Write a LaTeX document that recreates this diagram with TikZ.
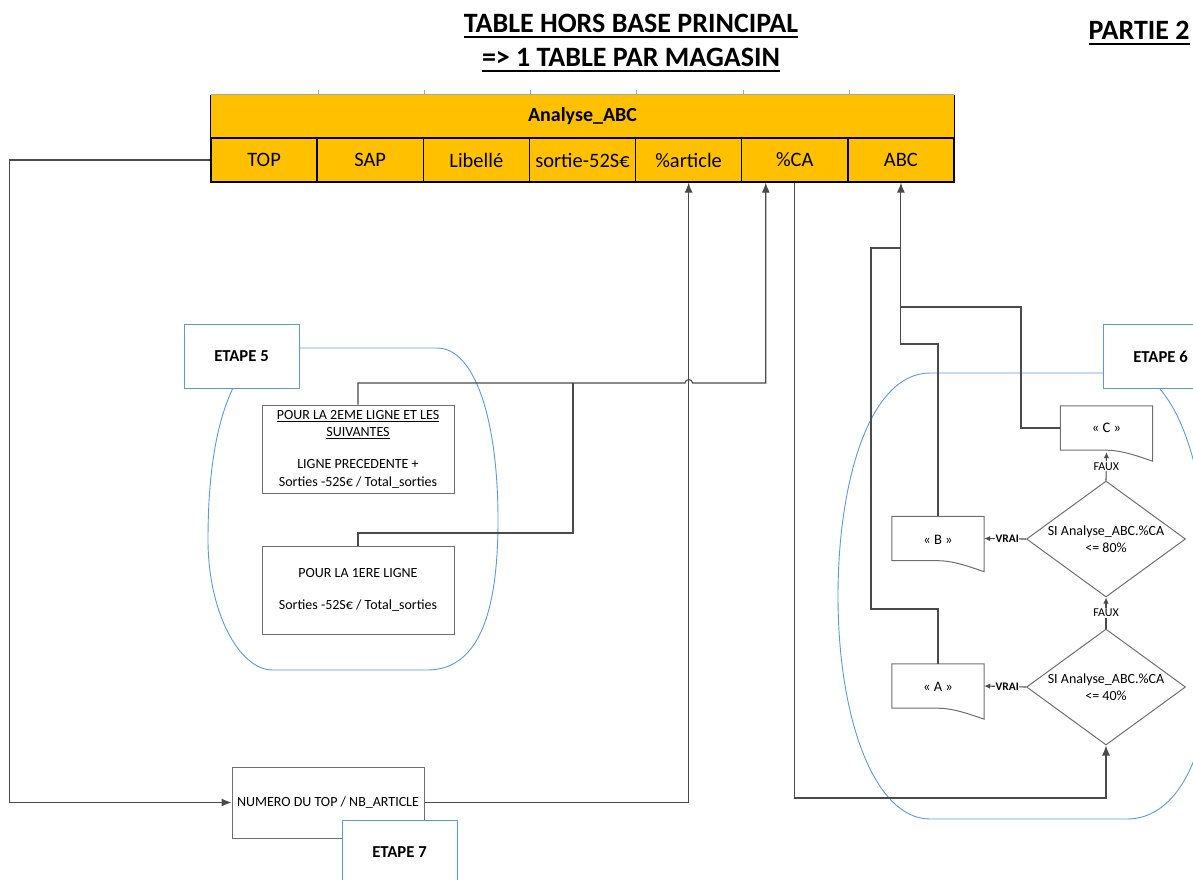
\documentclass[tikz,border=0pt]{standalone}
\usepackage{fontspec}
\setmainfont{Carlito}
\usetikzlibrary{arrows.meta,shapes.geometric}

\definecolor{tblorange}{HTML}{FFC000}
\definecolor{stepblue}{HTML}{5B9BD5}
\definecolor{linegray}{HTML}{4A4A4A}
\definecolor{boxgray}{HTML}{6E6E6E}
\definecolor{faintgray}{HTML}{A6A6A6}

% underlined text: #1 rule thickness, #2 gap below the baseline, #3 text
\newcommand{\rulunder}[3]{\leavevmode\vtop{\hbox{#3}\kern#2\hrule height #1}}

\begin{document}
\begin{tikzpicture}[x=1pt,y=-1pt,
  hdr/.style={fill=tblorange,draw=none,minimum width=743pt,minimum height=43pt,inner sep=0pt,
    font=\bfseries\fontsize{20}{22}\selectfont},
  cell/.style={draw=black,line width=1.3pt,fill=tblorange,minimum width=106.14pt,minimum height=44pt,
    inner sep=0pt,font=\fontsize{20.5}{22}\selectfont},
  stepbox/.style={draw=stepblue,line width=1pt,fill=white,minimum width=115pt,minimum height=64pt,
    inner sep=0pt,font=\bfseries\fontsize{16.7}{18}\selectfont},
  stepzone/.style={draw=stepblue,line width=0.9pt},
  calcbox/.style={draw=boxgray,line width=1pt,fill=white,minimum width=192pt,
    inner sep=0pt,align=center,font=\fontsize{14}{17.5}\selectfont},
  docbox/.style={minimum width=92pt,minimum height=44pt,inner sep=0pt},
  doctext/.style={font=\fontsize{14.5}{16}\selectfont},
  docline/.style={draw=boxgray,line width=1pt,fill=white},
  decision/.style={diamond,draw=boxgray,line width=1pt,aspect=1.38,minimum width=159pt,minimum height=116pt,
    inner sep=0pt,align=center,font=\fontsize{14}{17}\selectfont},
  conn/.style={draw=linegray,line width=1.1pt},
  bigtip/.style={-{Latex[length=10pt,width=8pt]}},
  smalltip/.style={-{Latex[length=6pt,width=5.5pt]}},
  faux/.style={fill=white,inner sep=1pt,font=\fontsize{12}{13}\selectfont},
  vrai/.style={fill=white,inner sep=0.5pt,font=\bfseries\fontsize{11.5}{13}\selectfont}
]
\useasboundingbox (0,0) rectangle (1193,879);
\clip (0,0) rectangle (1193,879);

% ---- titles ----
\node[font=\bfseries\fontsize{28}{34}\selectfont,align=center] (title) at (631,43)
  {\rulunder{1.8pt}{3.5pt}{TABLE HORS BASE PRINCIPAL}\\\rulunder{1.8pt}{3.5pt}{=> 1 TABLE PAR MAGASIN}};
\node[font=\bfseries\fontsize{28}{30}\selectfont] (partie) at (1139,33)
  {\rulunder{1.8pt}{3.5pt}{PARTIE 2}};

% ---- zones of the steps ----
\draw[stepzone] (299,348) -- (437,348)
  .. controls (475,348) and (498,420) .. (498,520)
  .. controls (498,610) and (480,670) .. (427,670)
  -- (273,670)
  .. controls (238,670) and (208,610) .. (208,540)
  .. controls (208,460) and (220,415) .. (233,388);
\draw[stepzone] (1103,373) -- (930,373)
  .. controls (870,373) and (838,480) .. (838,596)
  .. controls (838,720) and (875,819) .. (930,819)
  -- (1127,819)
  .. controls (1175,819) and (1212,760) .. (1212,640)
  .. controls (1212,520) and (1195,430) .. (1160,389);

% ---- table Analyse_ABC ----
\node[hdr] (hdr) at (582.5,116.5) {Analyse\_ABC};
\foreach \xx in {318,424,530,636,743,849}
  \draw[faintgray,line width=0.6pt] (\xx,90) -- (\xx,95);
\draw[faintgray,line width=0.8pt] (hdr.north west) -- (hdr.north east);
\node[cell] (ctop)    at (264.07,160) {TOP};
\node[cell] (csap)    at (370.21,160) {SAP};
\node[cell] (clib)    at (476.35,160) {Libellé};
\node[cell] (csortie) at (582.49,160) {sortie-52S€};
\node[cell] (cpart)   at (688.63,160) {\%article};
\node[cell] (cca)     at (794.77,160) {\%CA};
\node[cell] (cabc)    at (900.91,160) {ABC};
\draw[black,line width=1.3pt] (hdr.north west) -- (hdr.south west);
\draw[black,line width=1.3pt] (hdr.north east) -- (hdr.south east);

% ---- step 5 ----
\node[calcbox,minimum height=88pt] (suiv) at (358,449)
  {\rulunder{0.7pt}{1.5pt}{POUR LA 2EME LIGNE ET LES}\\
   \rulunder{0.7pt}{1.5pt}{SUIVANTES}\\[14.5pt]
   LIGNE PRECEDENTE +\\Sorties -52S€ / Total\_sorties};
\node[calcbox,minimum height=88pt] (first) at (358,590)
  {POUR LA 1ERE LIGNE\\[15pt]Sorties -52S€ / Total\_sorties};
\node[stepbox] (e5) at (241.5,356) {ETAPE 5};

% ---- step 7 ----
\node[calcbox,minimum height=71pt,font=\fontsize{14}{15}\selectfont] (numero) at (328,802.5)
  {NUMERO DU TOP / NB\_ARTICLE};
\node[stepbox] (e7) at (399.5,852) {ETAPE 7};

% ---- step 6 ----
\node[stepbox] (e6) at (1160.5,356.5) {ETAPE 6};
\node[decision] (dhigh) at (1106,539) {SI Analyse\_ABC.\%CA\\<= 80\%};
\node[decision] (dlow)  at (1106,687) {SI Analyse\_ABC.\%CA\\<= 40\%};
\node[docbox] (cbox) at (1106.5,428) {};
\node[docbox] (bbox) at (938,538.5) {};
\node[docbox] (abox) at (938,686) {};
\foreach \n in {abox,bbox,cbox}
  \draw[docline] (\n.south west) -- (\n.north west) -- (\n.north east)
    -- ([yshift=-11pt]\n.south east)
    .. controls ([xshift=-12pt,yshift=-7pt]\n.south east) and ([xshift=-30pt]\n.south east) .. (\n.south)
    -- cycle;
\node[doctext] (ctxt) at (cbox.center) {« C »};
\node[doctext] (btxt) at ([yshift=-1.5pt]bbox.center) {« B »};
\node[doctext] (atxt) at ([yshift=-1pt]abox.center) {« A »};

% ---- connectors ----
\draw[conn,bigtip] (ctop.west) -- ++(-201,0) |- (numero.west);
\draw[conn,bigtip] (numero.east) -| (cpart.south);
\draw[conn,bigtip] (suiv.north) |- (685,383)
  .. controls (685,378.5) and (692.5,378.5) .. (692.5,383)
  -| ([xshift=-29pt]cca.south);
\draw[conn] (first.north) |- (573,533) -- (573,383);
\draw[conn,bigtip] (cca.south) |- (1106,798) -- (dlow.south);
\draw[conn,bigtip] (bbox.north) -- (bbox.north |- 0,344) -| (cabc.south);
\draw[conn] (abox.north) -- (abox.north |- 0,609) -| (871,248) -- (cabc.south |- 0,248);
\draw[conn] (cbox.west) -| (1021,307) -- (cabc.south |- 0,307);
\draw[conn,smalltip] (dhigh.west) -- node[vrai,pos=0.45] {VRAI} (bbox.east);
\draw[conn,smalltip] (dlow.west) -- node[vrai,pos=0.45] {VRAI} (abox.east);
\draw[conn,smalltip] (dlow.north) -- node[faux] {FAUX} (dhigh.south);
\draw[conn,smalltip] (dhigh.north) -- node[faux] {FAUX} ([yshift=-2pt]cbox.south);
\end{tikzpicture}
\end{document}
